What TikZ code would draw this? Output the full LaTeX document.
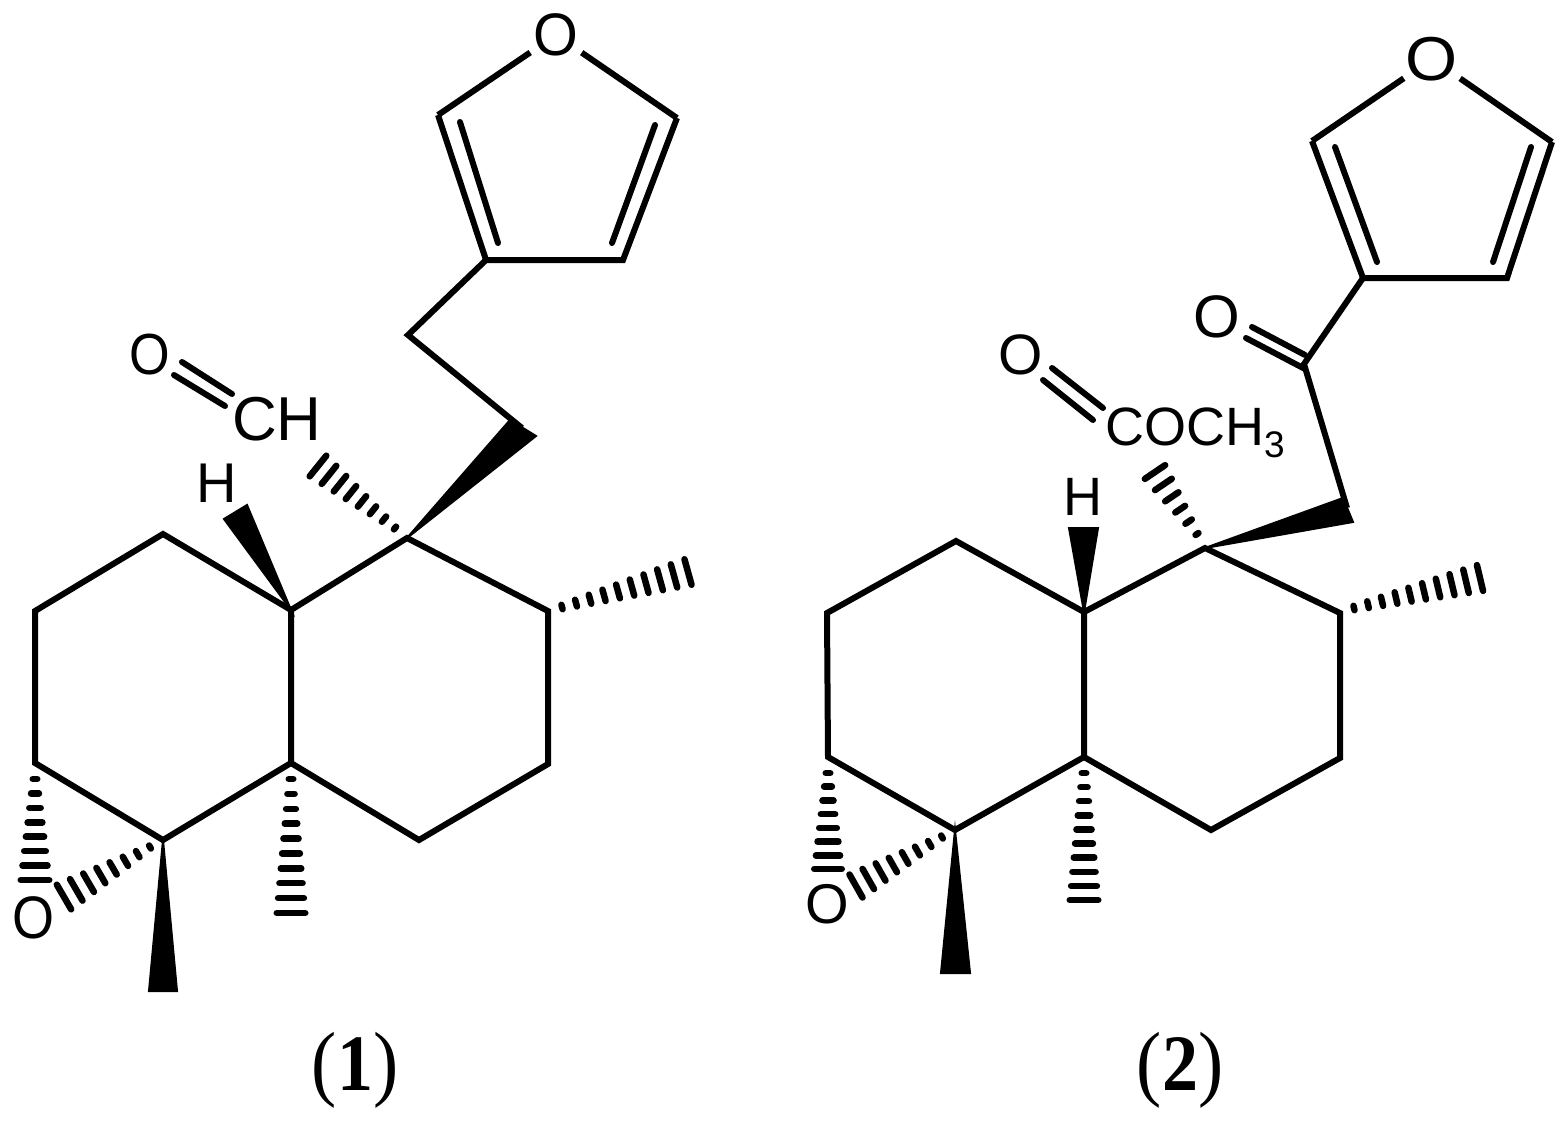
\documentclass[tikz,border=0pt]{standalone}
\usepackage{fontspec}
\setmainfont{Liberation Sans}
\newfontfamily\capfont{Liberation Serif}
\usetikzlibrary{calc}
\tikzset{
  bond/.style={line width=6pt,line cap=butt,line join=miter,miter limit=10},
  thinbond/.style={line width=6pt,line cap=round},
  hashstroke/.style={line width=6.5pt,line cap=round},
  solidwedge/.style={fill=black,draw=black,line width=2pt,line join=miter},
  atomring/.style={circle,minimum size=62pt,inner sep=0pt},
  atomtext/.style={inner sep=0pt,outer sep=0pt},
  captext/.style={inner sep=0pt,outer sep=0pt,anchor=base}
}
\newcommand{\fs}[1]{\fontsize{#1}{#1}\selectfont}
\newcommand{\captxt}[1]{\scalebox{.9}[1]{\capfont\fs{84}({\bfseries\fs{80}#1})}}
\newcommand{\hashbond}[5]{%
  \pgfmathtruncatemacro{\hbn}{#3-1}%
  \foreach \i in {0,...,\hbn}{%
    \pgfmathsetmacro{\hbt}{\i/\hbn}%
    \pgfmathsetmacro{\hbw}{(#4+(#5-#4)*\hbt-6.5)/2}%
    \coordinate (hbp) at ($(#1)!\hbt!(#2)$);
    \coordinate (hbq) at ($(#1)!2!(#2)$);
    \draw[hashstroke] ($(hbp)!\hbw pt!90:(hbq)$) -- ($(hbp)!\hbw pt!-90:(hbq)$);
  }}
\begin{document}
\begin{tikzpicture}[x=1pt,y=-1pt]
\useasboundingbox (0,0) rectangle (1561,1120);
\fill[white] (0,0) rectangle (1561,1120);

% ---------- molecule 1 ----------
\coordinate (a1) at (35,611);
\coordinate (a2) at (163,534);
\coordinate (a3) at (291,610);
\coordinate (a4) at (291,763);
\coordinate (a5) at (163,840);
\coordinate (a6) at (35,763);
\coordinate (b1) at (407,538);
\coordinate (b2) at (548,611);
\coordinate (b3) at (548,764);
\coordinate (b4) at (419,840);
\draw[bond] (a1) -- (a2) -- (a3) -- (a4) -- (a5) -- (a6) -- cycle;
\draw[bond] (a3) -- (b1) -- (b2) -- (b3) -- (b4) -- (a4);
% H wedge
\node[atomtext,anchor=base,font=\fs{56}] (h1) at (217,502) {H};
\coordinate (hl1) at (224,519);
\coordinate (hr1) at (247,505);
\fill[solidwedge] (a3) -- (hl1) -- (hr1) -- cycle;
% side chain
\coordinate (w1l) at (510,420);
\coordinate (w1r) at (536,436);
\coordinate (w1m) at (522,428);
\coordinate (c1) at (408,335);
\fill[solidwedge] (b1) -- (w1l) -- (w1r) -- cycle;
\node[atomring] (fo1) at (556,35) {\fs{60}\scalebox{.96}[1]{O}};
\coordinate (f1a) at (438,115);
\coordinate (f1b) at (486,260);
\coordinate (f1c) at (623,260);
\coordinate (f1d) at (677,118);
\draw[bond] (w1m) -- (c1) -- (f1b);
\draw[bond] (f1b) -- (f1c) -- (f1d);
\draw[bond] (f1b) -- (f1a);
\draw[thinbond,line cap=butt] (f1a) -- (fo1);
\draw[thinbond,line cap=butt] (f1d) -- (fo1);
\coordinate (f1i1) at (460,122);
\coordinate (f1i2) at (498,243);
\coordinate (f1i3) at (655,125);
\coordinate (f1i4) at (612,243);
\draw[thinbond] (f1i1) -- (f1i2);
\draw[thinbond] (f1i3) -- (f1i4);
% aldehyde
\node[atomtext,font=\fs{58}] (o1) at (150,355) {\scalebox{.9}[1]{O}};
\node[atomtext,anchor=base west,font=\fs{62}] (ch1) at (232,440) {CH};
\coordinate (d1a) at (182,362);
\coordinate (d1b) at (232,394);
\coordinate (d1c) at (174,375);
\coordinate (d1d) at (225,406);
\draw[thinbond] (d1a) -- (d1b);
\draw[thinbond] (d1c) -- (d1d);
% hashed bonds
\coordinate (h1a) at (395,528);
\coordinate (h1b) at (318,466);
\hashbond{h1a}{h1b}{8}{10}{33}
\coordinate (h2a) at (562,607);
\coordinate (h2b) at (688,572);
\hashbond{h2a}{h2b}{10}{11}{33}
\coordinate (h3a) at (291,779);
\coordinate (h3b) at (291,913);
\hashbond{h3a}{h3b}{10}{11}{35}
\coordinate (h4a) at (35,779);
\coordinate (h4b) at (35,880);
\hashbond{h4a}{h4b}{8}{11}{35}
\coordinate (h5a) at (150,847);
\coordinate (h5b) at (64,897);
\hashbond{h5a}{h5b}{8}{10}{35}
\node[atomtext,font=\fs{60}] (oe1) at (34,918) {\scalebox{.9}[1]{O}};
% methyl wedge
\coordinate (m1l) at (149,991);
\coordinate (m1r) at (177,991);
\fill[solidwedge] (a5) -- (m1l) -- (m1r) -- cycle;
\node[captext] (cap1) at (355,1090) {\captxt{1}};

% ---------- molecule 2 ----------
\coordinate (p1) at (827,613);
\coordinate (p2) at (956,541);
\coordinate (p3) at (1084,612);
\coordinate (p4) at (1084,757);
\coordinate (p5) at (955,830);
\coordinate (p6) at (828,757);
\coordinate (q1) at (1205,548);
\coordinate (q2) at (1340,613);
\coordinate (q3) at (1340,758);
\coordinate (q4) at (1211,830);
\draw[bond] (p1) -- (p2) -- (p3) -- (p4) -- (p5) -- (p6) -- cycle;
\draw[bond] (p3) -- (q1) -- (q2) -- (q3) -- (q4) -- (p4);
% H wedge
\node[atomtext,anchor=base,font=\fs{54}] (h2) at (1083,515) {H};
\coordinate (hl2) at (1069,528);
\coordinate (hr2) at (1098,528);
\fill[solidwedge] (p3) -- (hl2) -- (hr2) -- cycle;
% side chain
\coordinate (w2l) at (1343,498);
\coordinate (w2r) at (1353,522);
\coordinate (w2m) at (1347,508);
\coordinate (k2) at (1304,364);
\fill[solidwedge] (q1) -- (w2l) -- (w2r) -- cycle;
\node[atomring] (fo2) at (1432,59) {\fs{62}\scalebox{1.08}[1]{O}};
\coordinate (f2a) at (1312,141);
\coordinate (f2b) at (1363,278);
\coordinate (f2c) at (1507,278);
\coordinate (f2d) at (1552,142);
\draw[bond] (w2m) -- (k2) -- (f2b);
\draw[bond] (f2b) -- (f2c) -- (f2d);
\draw[bond] (f2b) -- (f2a);
\draw[thinbond,line cap=butt] (f2a) -- (fo2);
\draw[thinbond,line cap=butt] (f2d) -- (fo2);
\coordinate (f2i1) at (1335,147);
\coordinate (f2i2) at (1377,262);
\coordinate (f2i3) at (1531,147);
\coordinate (f2i4) at (1493,262);
\draw[thinbond] (f2i1) -- (f2i2);
\draw[thinbond] (f2i3) -- (f2i4);
% ketone
\node[atomtext,font=\fs{60}] (ok2) at (1217,317) {O};
\coordinate (d2a) at (1252,327);
\coordinate (d2b) at (1305,355);
\coordinate (d2c) at (1246,338);
\coordinate (d2d) at (1305,369);
\draw[thinbond] (d2a) -- (d2b);
\draw[thinbond] (d2c) -- (d2d);
% ester
\node[atomtext,font=\fs{57}] (oc2) at (1021,355) {O};
\node[atomtext,anchor=base west,font=\fs{54}] (co2) at (1105,445) {COCH\raisebox{-12pt}{\fs{37}3}};
\coordinate (d3a) at (1052,368);
\coordinate (d3b) at (1103,408);
\coordinate (d3c) at (1043,380);
\coordinate (d3d) at (1093,420);
\draw[thinbond] (d3a) -- (d3b);
\draw[thinbond] (d3c) -- (d3d);
% hashed bonds
\coordinate (k1a) at (1197,534);
\coordinate (k1b) at (1155,472);
\hashbond{k1a}{k1b}{6}{10}{31}
\coordinate (k2a) at (1354,608);
\coordinate (k2b) at (1480,578);
\hashbond{k2a}{k2b}{10}{11}{33}
\coordinate (k3a) at (1084,773);
\coordinate (k3b) at (1084,900);
\hashbond{k3a}{k3b}{10}{11}{35}
\coordinate (k4a) at (828,773);
\coordinate (k4b) at (828,869);
\hashbond{k4a}{k4b}{8}{11}{34}
\coordinate (k5a) at (942,837);
\coordinate (k5b) at (856,886);
\hashbond{k5a}{k5b}{8}{10}{33}
\node[atomtext,font=\fs{56}] (oe2) at (827,904) {O};
% methyl wedge
\coordinate (m2l) at (941,973);
\coordinate (m2r) at (970,973);
\fill[solidwedge] (p5) -- (m2l) -- (m2r) -- cycle;
\node[captext] (cap2) at (1180,1090) {\captxt{2}};
\end{tikzpicture}
\end{document}
